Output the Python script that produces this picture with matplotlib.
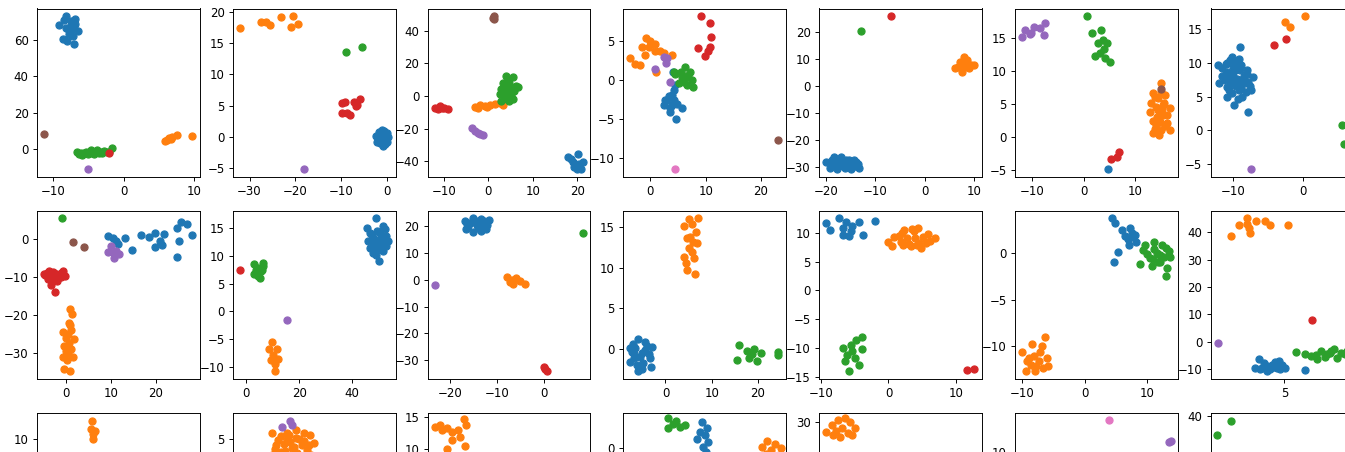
import matplotlib.pyplot as plt

# cluster id -> colour C0..C6 (tab10): 0 blue, 1 orange, 2 green, 3 red, 4 purple, 5 brown, 6 pink

# ---------------- row 1 ----------------
p00_x = [-9.1, -8.2, -6.9, -6.5, -7.0, -8.5, -7.7, -7.5, -8.0, -7.3, -8.4, -7.2, -7.8, -6.8, -7.6, -7.0, -8.2, -7.4,
         5.9, 6.4, 6.9, 7.6, 9.7, 6.1, 6.7,
         -6.6, -6.3, -5.6, -5.0, -4.4, -3.7, -3.2, -2.7, -2.1, -1.6, -5.9, -4.2, -3.5, -4.6,
         -6.0, -5.3, -4.8, -4.0, -3.0, -2.4,
         -2.1, -5.0, -11.2]
p00_y = [68.1, 73.1, 71.8, 65.0, 57.7, 60.8, 63.5, 68.1, 59.5, 66.3, 70.9, 62.0, 66.0, 69.0, 64.5, 67.5, 66.5, 70.5,
         4.6, 5.9, 6.8, 7.7, 7.3, 5.1, 5.4,
         -1.5, -2.7, -2.0, -2.7, -1.5, -0.5, -1.5, -1.0, -1.5, 0.4, -3.3, -2.7, -2.4, -0.5,
         -2.2, -1.8, -2.3, -1.8, -2.0, -1.6,
         -2.0, -11.2, 8.1]
p00_k = [0] * 18 + [1] * 7 + [2] * 20 + [3, 4, 5]

p01_x = [-2.4, -1.8, -1.2, -0.6, 0.0, 0.2, -2.0, -1.4, -0.8, -0.2, -2.2, -1.6, -1.0, -0.4, -1.2, -0.6, -1.8, -0.1,
         -32.0, -27.5, -26.4, -25.6, -23.2, -20.5, -20.9, -19.4,
         -9.0, -5.5,
         -9.9, -9.2, -7.3, -5.9, -6.6, -9.9, -8.8, -8.1, -6.8,
         -18.1]
p01_y = [0.1, 0.8, 1.1, 0.9, 0.6, -0.1, -0.4, 0.3, 0.2, -0.3, -0.9, -1.0, -1.4, -1.1, -0.5, 0.5, 0.2, -0.8,
         17.4, 18.3, 18.4, 17.9, 19.2, 19.3, 17.5, 18.1,
         13.5, 14.4,
         5.35, 5.6, 5.6, 6.0, 5.1, 3.75, 3.75, 3.5, 4.9,
         -5.2]
p01_k = [0] * 18 + [1] * 8 + [2] * 2 + [3] * 9 + [4]

p02_x = [17.9, 20.1, 19.0, 20.4, 19.3, 20.8, 18.6, 21.2, 19.9, 19.6,
         -2.9, -1.8, -0.7, 0.4, 1.5, 2.6, 3.3, -2.4, -0.2,
         4.0, 5.5, 3.3, 4.7, 6.2, 6.6, 2.9, 4.3, 5.8, 2.6, 4.0, 5.5, 2.9, 4.7, 3.7, 5.1, 3.5, 5.0, 4.5, 3.8, 5.0, 4.2,
         -12.0, -10.9, -9.9, -9.0, -11.4, -10.4,
         -3.6, -2.9, -2.2, -1.2, -1.8,
         1.2, 1.2, 1.1]
p02_y = [-37.5, -35.4, -40.5, -41.5, -43.5, -44.6, -38.5, -40.5, -45.0, -42.0,
         -6.5, -5.7, -6.1, -5.7, -5.0, -4.4, -5.7, -7.1, -6.5,
         12.2, 11.8, 8.1, 8.1, 6.1, 5.7, 4.1, 4.1, 3.0, 1.0, 0.0, -2.0, -3.0, -3.0, -1.0, 2.0, 6.0, 5.0, 10.0, 2.0, 1.0, -1.8,
         -7.1, -6.1, -7.1, -8.1, -8.1, -7.7,
         -19.8, -21.7, -22.7, -23.9, -23.1,
         48.9, 47.1, 48.0]
p02_k = [0] * 10 + [1] * 9 + [2] * 22 + [3] * 6 + [4] * 5 + [5] * 3

p03_x = [4.1, 4.5, 3.9, 3.0, 2.4, 3.6, 4.8, 5.7, 4.2, 4.65, 3.5, 2.7, 4.2, 3.3, 4.0,
         -3.6, -2.7, -1.8, -1.5, -0.7, 0.0, 0.9, 1.8, 3.9, -0.9, -0.3, 0.9, 2.4, 1.1,
         4.5, 6.3, 7.2, 5.7, 7.5, 6.6, 7.8, 5.1, 6.0, 4.2, 6.9, 5.5, 6.5,
         9.1, 10.75, 10.9, 10.75, 10.45, 9.9, 8.7,
         2.4, 3.0, 2.9, 0.9, 3.5,
         23.1, 4.5]
p03_y = [1.06, -0.6, -1.9, -2.55, -3.2, -3.6, -3.0, -3.6, -2.55, -4.9, -4.0, -2.55, -1.3, -2.0, -3.2,
         2.9, 2.1, 1.9, 4.25, 5.4, 5.0, 3.8, 3.8, 3.2, 3.2, 4.25, 4.7, 3.5, 1.1,
         0.85, 1.7, 1.1, 0.4, 0.0, -0.6, -0.9, -0.4, -0.2, 1.06, 0.42, 1.0, 0.5,
         8.2, 7.3, 5.5, 4.25, 3.7, 3.06, 4.1,
         3.0, 2.8, 2.2, 1.5, -0.2,
         -7.7, -11.4]
p03_k = [0] * 15 + [1] * 14 + [2] * 13 + [3] * 7 + [4] * 5 + [5, 6]

p04_x = [-19.9, -19.2, -18.3, -17.1, -16.9, -16.1, -15.4, -14.6, -13.9, -13.4, -17.8, -16.4, -15.0, -13.6,
         -17.5, -15.8, -14.2, -18.8, -18.7, -17.3, -16.5, -15.2, -14.3, -13.8, -18.0, -16.0,
         6.1, 7.2, 7.9, 8.6, 9.3, 10.0, 7.5, 8.9, 8.2, 6.8, 7.8, 8.5,
         -12.9, -6.8]
p04_y = [-28.0, -30.25, -26.5, -28.75, -26.5, -30.25, -27.5, -29.0, -28.0, -30.25, -30.9, -28.4, -30.9, -29.0,
         -29.5, -29.0, -29.8, -29.2, -27.6, -27.3, -29.6, -28.6, -27.4, -29.6, -28.6, -27.6,
         6.6, 9.1, 11.0, 9.75, 7.9, 7.9, 5.4, 6.6, 8.25, 7.25, 8.0, 7.3,
         20.6, 26.0]
p04_k = [0] * 26 + [1] * 12 + [2, 3]

p05_x = [4.7,
         15.1, 13.4, 15.8, 13.1, 16.8, 14.4, 12.8, 15.4, 14.7, 14.1, 15.8, 16.8, 13.4, 14.6, 15.4, 14.4, 16.1,
         14.0, 14.9, 14.2, 15.0, 13.8, 15.6, 16.2, 13.5, 15.1, 14.8, 13.8, 15.2,
         0.67, 1.7, 3.4, 3.8, 2.7, 2.3, 4.5, 4.2, 5.2, 3.15, 4.0,
         5.4, 6.4, 6.9,
         -11.9, -11.4, -10.3, -9.6, -8.4, -7.6, -7.7, -10.4,
         15.1]
p05_y = [-4.9,
         8.25, 6.6, 6.4, 5.1, 4.35, 4.1, 3.85, 3.3, 2.6, 1.8, 1.6, 1.06, 0.56, 0.3, 4.9, 5.85, 2.1,
         4.5, 3.8, 3.0, 6.8, 6.0, 5.2, 3.4, 2.4, 1.0, 2.3, 1.2, 4.2,
         18.3, 15.75, 16.15, 14.7, 14.2, 12.3, 14.2, 11.95, 11.3, 12.7, 13.3,
         -3.4, -3.0, -2.2,
         15.1, 16.15, 15.75, 16.7, 16.5, 17.2, 15.5, 15.6,
         7.24]
p05_k = [0] + [1] * 29 + [2] * 11 + [3] * 3 + [4] * 8 + [5]

p06_x = [-12.15, -12.0, -9.07, -10.1, -9.9, -10.8, -9.0, -8.0, -7.1, -11.1, -9.7, -8.5, -7.6, -10.6, -9.2, -7.5,
         -10.8, -8.7, -9.9, -7.8, -10.4, -11.5,
         -10.0, -9.5, -9.0, -10.3, -9.6, -8.8, -10.0, -9.4, -8.5, -11.0, -9.7, -10.4,
         -11.6, -11.0, -10.6, -10.2, -9.2, -8.3, -8.9, -9.8, -10.9, -9.3, -8.2, -10.8, -9.1, -8.0, -7.8,
         -2.66, -1.87, 0.28,
         5.5, 5.75, 6.5, 7.5, 8.85,
         -4.2, -2.43,
         -7.4]
p06_y = [9.7, 7.0, 12.4, 10.9, 9.7, 8.7, 8.9, 8.4, 7.95, 7.4, 7.2, 7.0, 6.5, 5.95, 5.95, 5.9,
         5.0, 5.0, 3.75, 2.7, 8.2, 9.2,
         8.0, 7.6, 7.5, 6.8, 6.5, 6.2, 9.2, 9.5, 8.0, 8.4, 10.2, 10.4,
         8.0, 9.8, 7.6, 5.5, 6.9, 7.3, 9.6, 8.8, 6.4, 4.6, 5.6, 10.0, 10.6, 9.0, 7.2,
         16.1, 15.3, 16.9,
         0.8, -2.07, 0.2, -0.5, 0.0,
         12.6, 13.5,
         -5.78]
p06_k = [0] * 49 + [1] * 3 + [2] * 5 + [3] * 2 + [4]

# ---------------- row 2 ----------------
p10_x = [9.26, 10.4, 11.6, 13.1, 14.7, 16.8, 18.5, 19.8, 19.8, 20.97, 21.9, 21.3, 24.8, 25.6, 27.0, 28.1, 25.2, 24.8, 11.1,
         0.9, 1.33, 0.74, -0.74, 1.1, 1.7, 0.0, -0.37, 1.1, -0.74, 1.5, 0.37, -0.37, 0.96, 0.37, 0.6, 0.0, 1.0, 0.2,
         -0.9,
         -4.8, -3.7, -2.6, -0.74, -0.2, -4.1, -1.85, -3.3, -2.4, -4.6, -1.5, -2.96, -3.2, -2.2,
         -4.2, -3.8, -2.8, -1.2, -1.0, -2.0, -3.0,
         10.0, 9.26, 11.1, 11.85, 10.6, 10.7,
         1.5, 4.1]
p10_y = [0.6, 0.2, -1.4, 0.2, -3.1, 1.05, 0.35, 1.5, -2.3, -0.7, 1.2, -1.75, 2.8, 4.4, 3.9, 0.9, -0.7, -4.8, -0.7,
         -18.4, -19.8, -22.2, -24.6, -24.0, -26.3, -26.1, -28.3, -29.0, -31.0, -31.2, -30.1, -34.3, -34.9, -25.1,
         -27.5, -29.5, -22.8, -32.0,
         5.4,
         -9.3, -8.4, -9.0, -8.6, -9.9, -10.5, -10.35, -12.1, -14.0, -9.5, -9.5, -10.75, -9.6, -9.4,
         -9.0, -10.0, -8.8, -8.9, -10.0, -11.2, -11.0,
         -2.0, -3.5, -3.2, -4.0, -5.1, -3.8,
         -0.9, -2.3]
p10_k = [0] * 19 + [1] * 19 + [2] + [3] * 21 + [4] * 6 + [5] * 2

p11_x = [49.1, 45.6, 51.9, 47.5, 50.6, 53.1, 46.25, 49.4, 52.5, 48.75, 51.9, 48.1, 50.4, 53.75, 50.0, 49.5, 51.0, 48.5,
         47.0, 52.5, 46.8, 50.8, 49.2, 52.9, 48.0, 51.5,
         9.6, 8.75, 11.6, 10.0, 11.9, 9.4, 10.9, 10.9,
         2.75, 6.5, 3.75, 5.4, 4.4, 3.1, 6.25, 5.0, 4.5, 5.8,
         -2.25, 15.4]
p11_y = [16.8, 15.0, 15.3, 13.8, 14.1, 13.5, 12.6, 12.9, 12.3, 11.4, 10.9, 10.5, 9.0, 12.6, 12.0, 14.5, 13.0, 12.2,
         14.2, 14.8, 11.5, 11.3, 10.2, 11.8, 13.3, 12.6,
         -5.6, -6.7, -6.8, -7.9, -8.5, -8.8, -9.4, -10.8,
         8.5, 8.8, 7.5, 7.2, 6.3, 6.7, 8.1, 6.0, 7.8, 7.5,
         7.5, -1.5]
p11_k = [0] * 26 + [1] * 8 + [2] * 10 + [3, 4]

p12_x = [-16.8, -15.0, -13.3, -11.8, -16.1, -14.3, -12.55, -15.0, -13.3, -15.7, -13.6, -12.1, -14.5, -13.0, -14.0,
         -16.3, -12.8, -14.8, -13.9, -12.4, -16.5,
         -7.8, -6.9, -6.0, -6.5, -5.1, -4.0, -7.2,
         8.2,
         0.0, 0.6, 0.3,
         -23.2]
p12_y = [21.8, 23.0, 22.8, 22.4, 19.9, 20.5, 19.9, 17.9, 18.3, 21.1, 21.1, 20.5, 22.0, 21.0, 19.5,
         21.0, 21.8, 21.5, 20.3, 18.9, 19.0,
         0.9, 0.0, 0.6, -1.6, -0.4, -1.6, -0.9,
         17.4,
         -32.7, -34.2, -33.5,
         -1.9]
p12_k = [0] * 21 + [1] * 7 + [2] + [3] * 3 + [4]

p13_x = [-7.6, -5.9, -4.1, -3.0, -6.9, -5.1, -3.4, -7.6, -6.2, -4.8, -3.2, -6.0, -6.6, -4.4, -5.5, -4.5, -6.8,
         -7.0, -5.0, -3.6, -7.2,
         5.1, 7.0, 4.1, 5.8, 4.6, 6.6, 5.9, 6.8, 5.2, 5.8, 4.1, 6.1, 4.4, 4.6, 6.3, 5.4,
         15.9, 15.4, 17.7, 19.1, 18.1, 19.9, 20.6, 18.7, 24.3, 24.4]
p13_y = [0.1, 1.2, 0.3, 0.16, -0.7, -0.5, -1.15, -1.6, -2.0, -1.8, -2.3, -2.8, 0.08, -0.12, -1.0, 0.8, -1.2,
         0.6, -2.5, -0.6, -0.4,
         16.0, 16.1, 15.1, 15.4, 13.6, 14.4, 13.2, 13.0, 12.4, 11.9, 11.3, 11.2, 10.6, 9.7, 9.25, 13.8,
         0.4, -1.36, -0.33, 0.0, -1.15, -1.56, -0.53, -0.66, -0.41, -0.74]
p13_k = [0] * 21 + [1] * 16 + [2] * 10

p14_x = [-9.2, -8.6, -7.4, -6.3, -6.7, -5.4, -4.4, -5.6, -6.7, -5.8, -3.7, -2.05,
         0.0, 0.77, 0.5, 2.3, 2.8, 3.85, 4.36, 4.6, 3.3, 5.1, 1.8, 6.9, 4.9, 1.5, 3.0, 4.0, 5.5, 2.2, 4.2,
         2.0, 3.5, 5.8, 6.2,
         -3.85, -4.8, -6.7, -5.6, -3.85, -6.2, -4.9, -6.4, -4.4, -5.9, -5.4,
         11.7, 12.7]
p14_y = [11.6, 10.5, 12.5, 11.9, 10.75, 11.2, 11.8, 10.3, 9.6, 9.5, 9.6, 12.07,
         8.45, 9.3, 7.6, 10.5, 9.0, 10.2, 10.75, 8.2, 7.6, 9.3, 8.45, 9.0, 7.3, 9.5, 8.0, 9.0, 8.2, 7.8, 7.8,
         10.0, 10.6, 9.8, 8.6,
         -8.1, -8.5, -9.95, -9.4, -10.2, -11.1, -11.7, -12.2, -12.9, -14.0, -10.5,
         -13.8, -13.6]
p14_k = [0] * 12 + [1] * 23 + [2] * 11 + [3] * 2

p15_x = [4.4, 4.8, 6.0, 7.2, 8.0, 6.85, 7.0, 8.2, 5.3, 4.7, 7.7, 7.5, 6.5,
         -6.3, -8.3, -9.9, -8.8, -7.1, -6.0, -7.7, -9.4, -6.6, -7.9, -5.9, -8.0, -7.3, -8.6, -9.2, -6.8,
         9.3, 11.1, 12.3, 12.9, 9.9, 11.5, 13.6, 8.8, 10.7, 12.05, 13.15, 13.0, 10.4, 11.0, 12.0, 10.8,
         9.6, 12.6, 11.6, 13.5]
p15_y = [3.8, 3.3, 2.5, 2.7, 2.0, 1.6, 0.96, 1.25, 0.18, -0.9, 1.8, 2.2, 1.9,
         -9.0, -9.8, -10.6, -11.25, -10.6, -11.25, -12.1, -12.7, -12.3, -12.7, -12.1, -11.0, -11.6, -12.0, -11.6, -10.0,
         0.36, 1.25, 0.96, 0.54, -0.1, 0.0, -0.36, -1.14, -1.4, -0.9, -1.6, -2.4, -0.5, 0.5, -0.2, -0.6,
         0.9, -0.4, -0.9, 0.3]
p15_k = [0] * 13 + [1] * 16 + [2] * 20

p16_x = [3.13, 3.34, 3.66, 3.88, 4.21, 4.53, 4.63, 4.85, 5.06, 4.10, 3.56, 6.35, 4.3, 3.9, 3.4, 4.7, 4.4,
         1.56, 2.05, 2.59, 2.70, 2.81, 3.19, 3.77, 4.10, 5.21, 2.59,
         5.75, 6.68, 7.32, 7.11, 7.75, 8.18, 8.61, 8.4, 9.0, 9.5, 10.22, 9.8, 7.6, 8.0, 6.3, 8.9, 7.0, 7.9,
         6.79, 0.72]
p16_y = [-9.6, -6.5, -7.8, -10.9, -8.4, -9.6, -7.2, -8.4, -9.6, -10.2, -9.6, -10.4, -9.2, -8.8, -9.9, -10.0, -7.6,
         38.8, 42.8, 45.2, 41.6, 39.75, 44.3, 44.2, 42.8, 42.8, 43.2,
         -3.7, -5.1, -3.5, -6.5, -4.7, -2.8, -4.1, -5.9, -3.5, -5.0, -4.0, -2.5, -5.5, -3.6, -4.5, -4.6, -4.8, -4.0,
         7.9, -0.37]
p16_k = [0] * 17 + [1] * 10 + [2] * 18 + [3, 4]

# ---------------- row 3 (only the top is in view) ----------------
p20_x = [5.24, 4.94, 5.74, 5.31, 5.43]
p20_y = [13.1, 11.67, 11.4, 10.9, 10.0]
p20_k = [1] * 5

p21_x = [9.63, 11.75, 17.5, 18.9, 19.9, 10.7, 13.2, 15.6, 14.4, 16.9, 11.9, 18.1, 9.5, 14.4, 13.2, 15.6, 19.3, 10.7,
         16.9, 13.9, 14.0, 12.0, 17.0,
         11.0, 12.5, 14.0, 15.0, 16.2, 17.5, 18.8, 12.8, 15.8, 17.8, 10.3, 11.5, 13.5, 18.5, 15.2,
         12.1, 14.0, 14.6]
p21_y = [5.75, 5.41, 5.75, 5.54, 4.5, 4.29, 4.91, 5.16, 3.91, 4.29, 3.41, 3.66, 3.04, 2.66, 5.79, 6.16, 3.04, 2.41,
         2.41, 5.54, 1.5, 0.5, 1.0,
         4.9, 4.4, 4.6, 4.0, 5.0, 4.8, 4.2, 3.5, 3.2, 2.8, 3.8, 2.3, 2.2, 1.8, 1.6,
         6.58, 7.33, 6.79]
p21_k = [1] * 38 + [4] * 3

p22_x = [-13.2, -12.0, -10.2, -9.0, -7.5, -6.0, -5.5, -7.0, -5.8, -9.0, -10.3, -11.5]
p22_y = [13.44, 13.8, 13.3, 12.7, 13.0, 14.7, 13.8, 11.8, 10.5, 11.45, 10.0, 12.9]
p22_k = [1] * 12

p23_x = [9.48, 10.7, 10.2, 8.2, 11.0, 9.7, 10.5, 9.0,
         25.5, 27.5, 24.3, 26.5, 28.8, 25.1, 28.3,
         1.06, 3.04, 5.27, 1.06, 4.03, 2.29]
p23_y = [6.58, 5.08, 3.33, 2.33, 1.58, 0.08, -1.18, 4.08,
         1.83, 1.08, 0.08, -0.68, -0.18, -1.68, -1.93,
         7.45, 6.83, 5.83, 5.08, 5.33, 6.08]
p23_k = [0] * 8 + [1] * 7 + [2] * 6

p24_x = [-23.3, -21.8, -20.3, -18.6, -17.3, -16.1, -17.8, -19.8, -21.5, -19.3, -16.8, -20.8]
p24_y = [27.7, 29.4, 30.7, 31.2, 30.2, 28.7, 27.4, 26.4, 26.7, 28.7, 26.7, 27.9]
p24_k = [1] * 12

p25_x = [13.47, 13.73, 2.34]
p25_y = [12.34, 12.66, 17.34]
p25_k = [4, 4, 6]

p26_x = [-1.17, -3.76]
p26_y = [38.89, 35.71]
p26_k = [2, 2]

panels = [
    [(p00_x, p00_y, p00_k), (p01_x, p01_y, p01_k), (p02_x, p02_y, p02_k), (p03_x, p03_y, p03_k),
     (p04_x, p04_y, p04_k), (p05_x, p05_y, p05_k), (p06_x, p06_y, p06_k)],
    [(p10_x, p10_y, p10_k), (p11_x, p11_y, p11_k), (p12_x, p12_y, p12_k), (p13_x, p13_y, p13_k),
     (p14_x, p14_y, p14_k), (p15_x, p15_y, p15_k), (p16_x, p16_y, p16_k)],
    [(p20_x, p20_y, p20_k), (p21_x, p21_y, p21_k), (p22_x, p22_y, p22_k), (p23_x, p23_y, p23_k),
     (p24_x, p24_y, p24_k), (p25_x, p25_y, p25_k), (p26_x, p26_y, p26_k)],
]

# bottom row runs off the picture, so its view is fixed by hand
row3_limits = [((-5, 25), (-13.9, 14.47)), ((0, 40), (-12.9, 8.35)), ((-15, 25), (-10.85, 15.72)),
               ((-10, 30), (-33.6, 8.9)), ((-25, 15), (-10, 32.5)), ((-15, 15), (-19.48, 19.16)),
               ((-5, 25), (3.23, 40.67))]

DPI = 85
W_PX, H_PX = 1345, 452
fig = plt.figure(figsize=(W_PX / DPI, H_PX / DPI), dpi=DPI)

col_left = [37, 233, 427.5, 623, 819, 1015, 1210.5]
row_top = [8.5, 210.5, 412.5]
ax_w, ax_h = 162.5, 168.5

for r, row in enumerate(panels):
    for c, (xs, ys, ks) in enumerate(row):
        assert len(xs) == len(ys) == len(ks), (r, c)
        ax = fig.add_axes([col_left[c] / W_PX, 1 - (row_top[r] + ax_h) / H_PX, ax_w / W_PX, ax_h / H_PX])
        for k in sorted(set(ks)):
            ax.scatter([x for x, kk in zip(xs, ks) if kk == k],
                       [y for y, kk in zip(ys, ks) if kk == k], color=f'C{k}')
        if r == 2:
            ax.set_xlim(row3_limits[c][0])
            ax.set_ylim(row3_limits[c][1])

fig.savefig('out.png', dpi=DPI)
